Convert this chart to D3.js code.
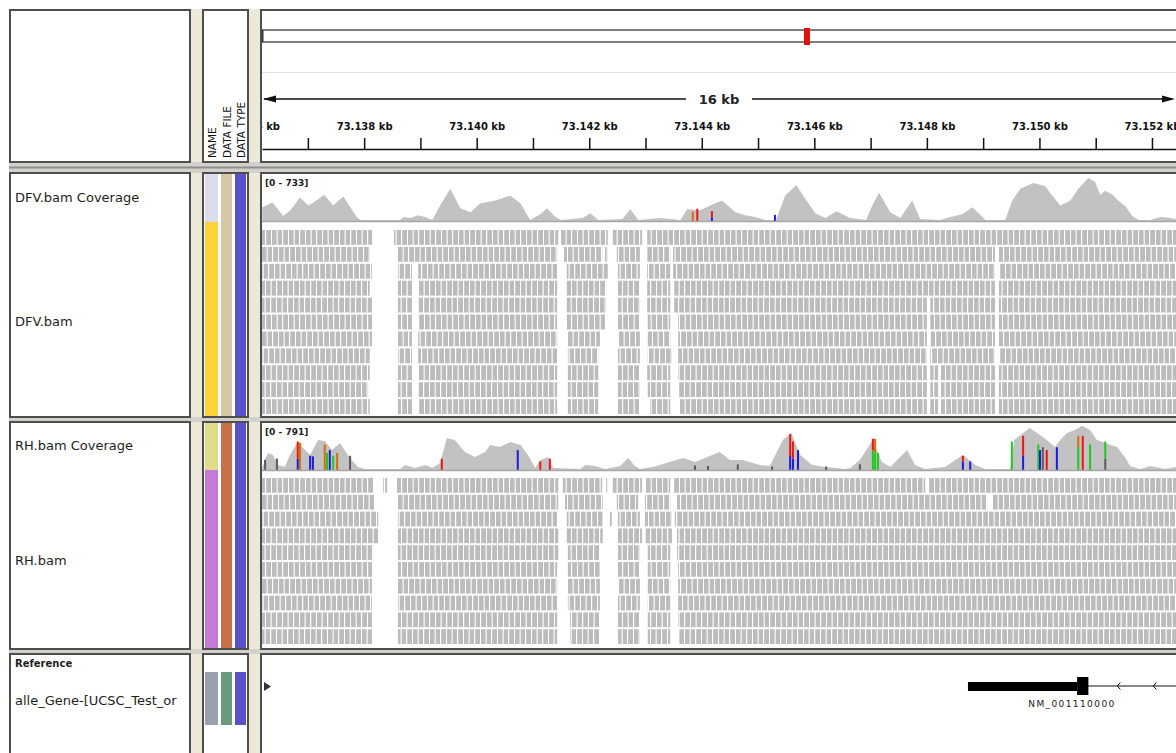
<!DOCTYPE html>
<html>
<head>
<meta charset="utf-8">
<title>IGV - DFV / RH</title>
<script src="https://cdn.jsdelivr.net/npm/d3@7"></script>
<style>
  body { margin: 0; background: #fff; }
  svg { display: block; font-family: "DejaVu Sans", sans-serif; }
</style>
</head>
<body>
<script>
// visible region (kb) and ruler
var regionKb = [73136.185, 73152.427];
var chromosomeKb = 122670;
var rulerTicks = [73136,73137,73138,73139,73140,73141,73142,73143,73144,73145,73146,73147,73148,73149,73150,73151,73152,73153];
var rulerLabels = ["73.136 kb","73.138 kb","73.140 kb","73.142 kb","73.144 kb","73.146 kb","73.148 kb","73.150 kb","73.152 kb"];

// track names
var trackNames = ["DFV.bam Coverage","DFV.bam","RH.bam Coverage","RH.bam","Reference","alle_Gene-[UCSC_Test_or"];
var attrHeaders = ["NAME","DATA FILE","DATA TYPE"];

// coverage [kb, depth]
var dfvMax = 733;
var dfvCoverage = [
  [73136.19,222],[73136.37,302],[73136.56,80],[73136.69,175],[73136.86,382],[73137.01,254],[73137.15,334],
  [73137.29,429],[73137.45,254],[73137.63,398],[73137.79,175],[73137.88,48],[73137.95,16],[73138.64,16],
  [73138.70,64],[73138.82,48],[73138.96,95],[73139.09,64],[73139.21,16],[73139.35,254],[73139.53,525],
  [73139.71,207],[73139.89,143],[73140.06,286],[73140.33,334],[73140.60,413],[73140.78,286],[73140.95,16],
  [73141.13,111],[73141.25,207],[73141.38,80],[73141.49,16],[73141.88,48],[73142.02,127],[73142.16,16],
  [73142.59,32],[73142.73,191],[73142.87,16],[73143.26,48],[73143.62,16],[73143.74,191],[73143.97,175],
  [73144.19,270],[73144.36,334],[73144.60,143],[73144.77,95],[73144.95,64],[73145.13,16],[73145.32,16],
  [73145.48,413],[73145.68,588],[73145.86,334],[73146.02,127],[73146.20,48],[73146.39,159],[73146.64,48],
  [73146.92,16],[73147.03,254],[73147.15,461],[73147.35,143],[73147.53,48],[73147.62,175],[73147.74,334],
  [73147.88,32],[73148.24,16],[73148.42,64],[73148.63,111],[73148.81,223],[73149.04,16],[73149.39,16],
  [73149.52,334],[73149.66,525],[73149.89,620],[73150.10,572],[73150.23,413],[73150.37,254],[73150.55,334],
  [73150.69,525],[73150.87,700],[73150.99,636],[73151.08,429],[73151.17,493],[73151.30,429],[73151.40,334],
  [73151.53,239],[73151.65,80],[73151.76,16],[73151.97,16],[73152.15,64],[73152.33,48],[73152.43,32]
];
var rhMax = 791;
var rhCoverage = [
  [73136.19,53],[73136.29,299],[73136.38,264],[73136.47,88],[73136.59,53],[73136.68,264],[73136.82,493],
  [73136.95,352],[73137.04,264],[73137.18,528],[73137.30,510],[73137.43,352],[73137.57,475],[73137.71,264],
  [73137.78,176],[73137.89,53],[73138.02,18],[73138.64,18],[73138.73,88],[73138.90,35],[73139.09,88],
  [73139.21,35],[73139.35,123],[73139.47,563],[73139.61,528],[73139.79,317],[73139.97,229],[73140.15,317],
  [73140.24,440],[73140.41,405],[73140.60,493],[73140.78,440],[73140.91,264],[73141.04,35],[73141.13,176],
  [73141.27,229],[73141.36,35],[73141.84,18],[73141.93,88],[73142.10,70],[73142.28,18],[73142.55,70],
  [73142.69,211],[73142.81,70],[73142.90,18],[73143.13,53],[73143.67,211],[73143.88,141],[73144.32,317],
  [73144.50,176],[73144.73,176],[73145.03,88],[73145.21,70],[73145.44,528],[73145.59,651],[73145.75,264],
  [73145.96,88],[73146.20,53],[73146.55,18],[73146.64,35],[73146.81,176],[73147.04,528],[73147.20,141],
  [73147.35,53],[73147.65,352],[73147.79,88],[73147.97,18],[73148.32,53],[73148.64,264],[73148.86,88],
  [73149.04,18],[73149.48,18],[73149.55,528],[73149.71,651],[73149.83,739],[73150.01,616],[73150.13,528],
  [73150.28,405],[73150.37,528],[73150.49,651],[73150.63,704],[73150.76,780],[73150.90,704],[73151.02,528],
  [73151.17,475],[73151.38,405],[73151.53,211],[73151.61,70],[73151.79,18],[73151.97,70],[73152.23,18],
  [73152.43,53]
];

// mismatching bases [kb, [[base, count], ...]] stacked from the baseline
var dfvMismatch = [
  [73143.84,[["G",150]]],[73143.92,[["T",200]]],[73144.18,[["C",60],["T",100]]],[73145.30,[["C",100]]]
];
var rhMismatch = [
  [73136.24,[["N",180]]],[73136.45,[["N",200]]],[73136.82,[["C",200],["T",300]]],[73136.86,[["G",480]]],
  [73137.04,[["C",250]]],[73137.09,[["C",240]]],[73137.30,[["G",450]]],[73137.34,[["A",300]]],
  [73137.39,[["C",350]]],[73137.45,[["A",250]]],[73137.52,[["G",300]]],[73137.75,[["N",250]]],
  [73139.38,[["T",200]]],[73140.73,[["C",350]]],[73141.13,[["T",150]]],[73141.30,[["T",200]]],
  [73143.88,[["N",80]]],[73144.11,[["N",70]]],[73144.64,[["N",100]]],[73145.25,[["N",60]]],
  [73145.57,[["C",250],["T",380]]],[73145.62,[["C",200],["T",300]]],[73145.71,[["C",350]]],
  [73146.21,[["N",60]]],[73146.81,[["N",100]]],[73147.04,[["A",350],["T",200]]],
  [73147.08,[["A",300],["G",250]]],[73147.13,[["A",300]]],[73148.64,[["C",150],["T",100]]],
  [73148.77,[["C",150]]],[73149.51,[["A",500]]],[73149.71,[["C",250],["T",350]]],[73149.98,[["A",450]]],
  [73150.01,[["C",350]]],[73150.06,[["N",400]]],[73150.13,[["T",350]]],[73150.31,[["C",400]]],
  [73150.69,[["A",400],["G",200]]],[73150.77,[["T",600]]],[73150.90,[["A",450]]],[73151.17,[["N",200],["A",300]]]
];

// packed alignment rows: covered intervals [kb start, kb end]
var dfvReads = [
  [[73136.15,73138.14],[73138.53,73141.45],[73141.50,73142.33],[73142.42,73142.94],[73143.03,73152.60]],
  [[73136.15,73138.10],[73138.60,73141.43],[73141.55,73142.23],[73142.28,73142.33],[73142.49,73142.90],[73143.03,73143.44],[73143.49,73149.21],[73149.28,73152.60]],
  [[73136.15,73138.14],[73138.60,73138.85],[73138.96,73141.43],[73141.60,73142.33],[73142.51,73142.90],[73143.03,73143.44],[73143.49,73149.21],[73149.28,73152.60]],
  [[73136.15,73138.10],[73138.60,73138.85],[73138.96,73141.43],[73141.60,73142.30],[73142.51,73142.90],[73143.03,73143.44],[73143.51,73149.21],[73149.28,73152.60]],
  [[73136.15,73138.14],[73138.60,73138.85],[73138.96,73141.43],[73141.60,73142.30],[73142.51,73142.90],[73143.03,73143.44],[73143.51,73148.00],[73148.06,73149.21],[73149.28,73152.60]],
  [[73136.15,73138.14],[73138.60,73138.85],[73138.96,73141.43],[73141.60,73142.28],[73142.51,73142.90],[73143.04,73143.44],[73143.58,73148.00],[73148.06,73149.21],[73149.28,73152.60]],
  [[73136.15,73138.14],[73138.60,73138.85],[73138.96,73141.43],[73141.62,73142.19],[73142.51,73142.90],[73143.04,73143.44],[73143.58,73148.00],[73148.06,73149.21],[73149.28,73152.60]],
  [[73136.15,73138.10],[73138.60,73138.85],[73138.96,73141.43],[73141.62,73142.16],[73142.51,73142.90],[73143.04,73143.47],[73143.58,73148.00],[73148.06,73149.21],[73149.28,73152.60]],
  [[73136.15,73138.10],[73138.60,73138.85],[73138.96,73141.43],[73141.62,73142.16],[73142.51,73142.90],[73143.03,73143.44],[73143.58,73148.00],[73148.06,73148.20],[73148.25,73149.21],[73149.28,73152.60]],
  [[73136.15,73138.07],[73138.60,73138.85],[73138.96,73141.43],[73141.62,73142.16],[73142.51,73142.90],[73143.04,73143.44],[73143.58,73148.00],[73148.06,73148.20],[73148.25,73149.21],[73149.28,73152.60]],
  [[73136.15,73138.10],[73138.60,73138.85],[73138.96,73141.43],[73141.62,73142.16],[73142.51,73142.90],[73143.08,73143.44],[73143.61,73148.00],[73148.06,73148.20],[73148.25,73149.21],[73149.28,73152.60]]
];
var rhReads = [
  [[73136.15,73138.16],[73138.34,73138.41],[73138.58,73141.45],[73141.53,73142.23],[73142.28,73142.32],[73142.42,73142.94],[73142.99,73143.44],[73143.49,73147.97],[73148.02,73152.60]],
  [[73136.15,73138.19],[73138.60,73141.45],[73141.57,73142.24],[73142.49,73142.87],[73142.99,73143.44],[73143.56,73149.07],[73149.16,73152.60]],
  [[73136.15,73138.25],[73138.60,73141.43],[73141.60,73142.24],[73142.37,73142.40],[73142.51,73142.90],[73142.99,73143.47],[73143.52,73152.60]],
  [[73136.15,73138.25],[73138.60,73141.45],[73141.60,73142.24],[73142.51,73142.94],[73142.99,73143.47],[73143.56,73152.60]],
  [[73136.15,73138.16],[73138.60,73141.45],[73141.62,73142.19],[73142.51,73142.90],[73143.04,73143.44],[73143.56,73152.60]],
  [[73136.15,73138.14],[73138.60,73141.43],[73141.62,73142.19],[73142.51,73142.90],[73143.04,73143.44],[73143.58,73152.60]],
  [[73136.15,73138.14],[73138.60,73141.43],[73141.62,73142.19],[73142.51,73142.90],[73143.04,73143.44],[73143.58,73152.60]],
  [[73136.15,73138.14],[73138.60,73141.43],[73141.62,73142.19],[73142.51,73142.90],[73143.04,73143.44],[73143.58,73152.60]],
  [[73136.15,73138.14],[73138.60,73141.43],[73141.66,73142.19],[73142.51,73142.90],[73143.04,73143.44],[73143.58,73152.60]],
  [[73136.15,73138.14],[73138.60,73141.43],[73141.66,73142.19],[73142.51,73142.90],[73143.04,73143.44],[73143.60,73152.60]]
];

// gene feature (minus strand)
var geneName = "NM_001110000";
var geneSpan = [73148.73, 73154.00];
var geneUtr = [73148.73, 73150.67];
var geneCds = [73150.67, 73150.87];

var W = 1176, H = 753;
var beige = "#ece9d8", border = "#4e4e4e";
var baseColor = { A: "#20c820", C: "#1c1ce0", G: "#d17105", T: "#ee1515", N: "#5a5a5a" };

var cols = { name: [10, 190], attr: [203, 248], data: [261, 1186] };
var rows = { head: [10, 162], dfv: [173, 417], rh: [422, 649], ref: [654, 775] };

var svg = d3.select("body").append("svg")
  .attr("width", W)
  .attr("height", H);

var defs = svg.append("defs");
defs.append("clipPath").attr("id", "clipData")
  .append("rect").attr("x", 262).attr("y", 0).attr("width", W - 262).attr("height", H);
defs.append("clipPath").attr("id", "clipName")
  .append("rect").attr("x", 11).attr("y", 0).attr("width", 178).attr("height", H);

// stripe patterns for the packed reads, shifted row by row
var stripeOffsets = [0, 7, 3, 11, 5];
stripeOffsets.forEach(function (off, i) {
  var p = defs.append("pattern")
    .attr("id", "reads" + i)
    .attr("patternUnits", "userSpaceOnUse")
    .attr("x", off).attr("y", 0)
    .attr("width", 17).attr("height", H);
  [[0, 4.6], [5.7, 4.3], [11.2, 4.8]].forEach(function (s) {
    p.append("rect").attr("x", s[0]).attr("y", 0).attr("width", s[1]).attr("height", H).attr("fill", "#bcbcbc");
  });
});

// background, separators and boxes
svg.append("rect").attr("x", 9).attr("y", 9).attr("width", W - 9).attr("height", H - 9).attr("fill", beige);

[[rows.head[1], rows.dfv[0]], [rows.dfv[1], rows.rh[0]], [rows.rh[1], rows.ref[0]]].forEach(function (s) {
  svg.append("rect").attr("x", 9).attr("y", s[0]).attr("width", W - 9).attr("height", s[1] - s[0]).attr("fill", "#d2d0cb");
  if (s[1] - s[0] > 6) {
    svg.append("line").attr("x1", 9).attr("x2", W).attr("y1", (s[0] + s[1]) / 2).attr("y2", (s[0] + s[1]) / 2)
      .attr("stroke", "#8e8e8e").attr("stroke-width", 2);
  }
});

Object.keys(rows).forEach(function (r) {
  Object.keys(cols).forEach(function (c) {
    svg.append("rect")
      .attr("x", cols[c][0]).attr("y", rows[r][0])
      .attr("width", cols[c][1] - cols[c][0]).attr("height", rows[r][1] - rows[r][0])
      .attr("fill", "#fff").attr("stroke", border).attr("stroke-width", 2);
  });
});

// scales
var x = d3.scaleLinear().domain(regionKb).range([262, 1176]);
var ideo = d3.scaleLinear().domain([0, chromosomeKb]).range([262, 1176]);
var dfvY = d3.scaleLinear().domain([0, dfvMax]).range([221, 176]);
var rhY = d3.scaleLinear().domain([0, rhMax]).range([470, 425]);
var dfvRow = d3.scaleBand().domain(d3.range(dfvReads.length)).range([230, 414]).paddingInner(0.12);
var rhRow = d3.scaleBand().domain(d3.range(rhReads.length)).range([478, 644]).paddingInner(0.12);

// ---------- header ----------
var head = svg.append("g").attr("clip-path", "url(#clipData)");

// chromosome ideogram
head.append("line").attr("x1", 262).attr("x2", W).attr("y1", 30).attr("y2", 30).attr("stroke", "#555").attr("stroke-width", 1.5);
head.append("line").attr("x1", 262).attr("x2", W).attr("y1", 42).attr("y2", 42).attr("stroke", "#555").attr("stroke-width", 1.5);
head.append("line").attr("x1", 262.5).attr("x2", 262.5).attr("y1", 30).attr("y2", 42).attr("stroke", "#333").attr("stroke-width", 2);
var mid = (regionKb[0] + regionKb[1]) / 2;
head.append("rect").attr("x", ideo(mid) - 3).attr("y", 28).attr("width", 6).attr("height", 17).attr("fill", "#e01010");
head.append("line").attr("x1", 262).attr("x2", W).attr("y1", 72.5).attr("y2", 72.5).attr("stroke", "#e2e2e2");

// span arrow
var spanLabel = Math.round(regionKb[1] - regionKb[0]) + " kb";
head.append("line").attr("x1", 264).attr("x2", 1172).attr("y1", 99).attr("y2", 99).attr("stroke", "#111").attr("stroke-width", 1.5);
head.append("path").attr("d", "M263,99L276,95.5L276,102.5Z").attr("fill", "#111");
head.append("path").attr("d", "M1175,99L1162,95.5L1162,102.5Z").attr("fill", "#111");
head.append("rect").attr("x", x(mid) - 33).attr("y", 92).attr("width", 66).attr("height", 14).attr("fill", "#fff");
head.append("text").attr("x", x(mid)).attr("y", 104).attr("text-anchor", "middle")
  .attr("font-size", 13).attr("font-weight", "bold").attr("fill", "#222").text(spanLabel);

// ruler
var ruler = d3.axisTop(x)
  .tickValues(rulerTicks)
  .tickSize(11)
  .tickSizeOuter(0)
  .tickPadding(8)
  .tickFormat(function (d, i) { return i % 2 === 0 ? rulerLabels[i / 2] : ""; });
var rg = head.append("g").attr("transform", "translate(0,149)").call(ruler);
rg.select(".domain").attr("stroke", "#111").attr("stroke-width", 1.5);
rg.selectAll(".tick line").attr("stroke", "#111").attr("stroke-width", 1.5);
rg.selectAll(".tick text").attr("fill", "#111").attr("font-size", 10).attr("font-weight", "bold")
  .attr("font-family", "DejaVu Sans, sans-serif");

// attribute header
attrHeaders.forEach(function (t, i) {
  var bx = [216, 231, 245][i];
  svg.append("text")
    .attr("transform", "translate(" + bx + ",158) rotate(-90)")
    .attr("font-size", 10.5).attr("fill", "#111").text(t);
});

// ---------- names ----------
var names = svg.append("g").attr("clip-path", "url(#clipName)").attr("fill", "#1e1e1e");
[[trackNames[0], 202, 13, "normal"], [trackNames[1], 326, 13, "normal"],
 [trackNames[2], 450, 13, "normal"], [trackNames[3], 565, 13, "normal"],
 [trackNames[4], 667, 10, "bold"], [trackNames[5], 705, 13, "normal"]].forEach(function (n) {
  names.append("text").attr("x", 15).attr("y", n[1]).attr("font-size", n[2]).attr("font-weight", n[3]).text(n[0]);
});

// ---------- attribute colours ----------
var attrCols = [[205, 218], [221, 232], [235, 246]];
var attrCells = [
  [174, 222, ["#dcdcec", "#d6c8a6", "#5a50c8"]],
  [222, 416, ["#fbd23a", "#d6c8a6", "#5a50c8"]],
  [423, 470, ["#dedc8a", "#c8704c", "#5a50c8"]],
  [470, 648, ["#c67ad6", "#c8704c", "#5a50c8"]],
  [672, 725, ["#9aa0b0", "#6a9a7a", "#5a50c8"]]
];
attrCells.forEach(function (c) {
  c[2].forEach(function (col, j) {
    svg.append("rect").attr("x", attrCols[j][0]).attr("y", c[0])
      .attr("width", attrCols[j][1] - attrCols[j][0]).attr("height", c[1] - c[0]).attr("fill", col);
  });
});

// ---------- data tracks ----------
var data = svg.append("g").attr("clip-path", "url(#clipData)");

function coverageTrack(cov, mism, yS, label) {
  data.append("path")
    .datum(cov)
    .attr("fill", "#c2c2c2")
    .attr("d", d3.area()
      .x(function (d) { return x(d[0]); })
      .y0(yS(0))
      .y1(function (d) { return yS(d[1]); }));
  mism.forEach(function (m) {
    var acc = 0;
    m[1].forEach(function (p) {
      data.append("rect")
        .attr("x", x(m[0]) - 1).attr("width", 2)
        .attr("y", yS(acc + p[1])).attr("height", yS(acc) - yS(acc + p[1]))
        .attr("fill", baseColor[p[0]]);
      acc += p[1];
    });
  });
  data.append("line").attr("x1", 262).attr("x2", W).attr("y1", yS(0) + 0.5).attr("y2", yS(0) + 0.5)
    .attr("stroke", "#a6a6a6").attr("stroke-width", 1.5);
  data.append("text").attr("x", 265).attr("y", yS.range()[1] + 10)
    .attr("font-size", 9).attr("font-weight", "bold").attr("fill", "#222")
    .text("[0 - " + yS.domain()[1] + "]");
}

function readTrack(rowsData, band) {
  rowsData.forEach(function (segs, i) {
    data.selectAll(null)
      .data(segs)
      .enter()
      .append("rect")
      .attr("x", function (d) { return x(d[0]); })
      .attr("width", function (d) { return x(d[1]) - x(d[0]); })
      .attr("y", band(i))
      .attr("height", band.bandwidth())
      .attr("fill", "url(#reads" + (i % stripeOffsets.length) + ")");
  });
}

coverageTrack(dfvCoverage, dfvMismatch, dfvY);
readTrack(dfvReads, dfvRow);
coverageTrack(rhCoverage, rhMismatch, rhY);
readTrack(rhReads, rhRow);

// ---------- reference / gene ----------
data.append("path").attr("d", "M264,682L271,686.5L264,691Z").attr("fill", "#333");

var gy = 686;
data.append("line").attr("x1", x(geneSpan[0])).attr("x2", x(geneSpan[1])).attr("y1", gy).attr("y2", gy)
  .attr("stroke", "#111").attr("stroke-width", 1);
data.append("rect").attr("x", x(geneUtr[0])).attr("width", x(geneUtr[1]) - x(geneUtr[0]))
  .attr("y", gy - 4).attr("height", 9).attr("fill", "#000");
data.append("rect").attr("x", x(geneCds[0])).attr("width", x(geneCds[1]) - x(geneCds[0]))
  .attr("y", gy - 9).attr("height", 18).attr("fill", "#000");
d3.range(x(geneCds[1]) + 29, W, 36).forEach(function (ax) {
  data.append("path").attr("d", "M" + (ax + 3) + "," + (gy - 3.5) + "L" + ax + "," + gy + "L" + (ax + 3) + "," + (gy + 3.5))
    .attr("fill", "none").attr("stroke", "#111").attr("stroke-width", 1);
});
var visStart = Math.max(x(geneSpan[0]), 262), visEnd = Math.min(x(geneSpan[1]), W);
data.append("text").attr("x", (visStart + visEnd) / 2).attr("y", 706.5).attr("text-anchor", "middle")
  .attr("font-size", 9).attr("letter-spacing", 1.4).attr("fill", "#222").text(geneName);
</script>
</body>
</html>
